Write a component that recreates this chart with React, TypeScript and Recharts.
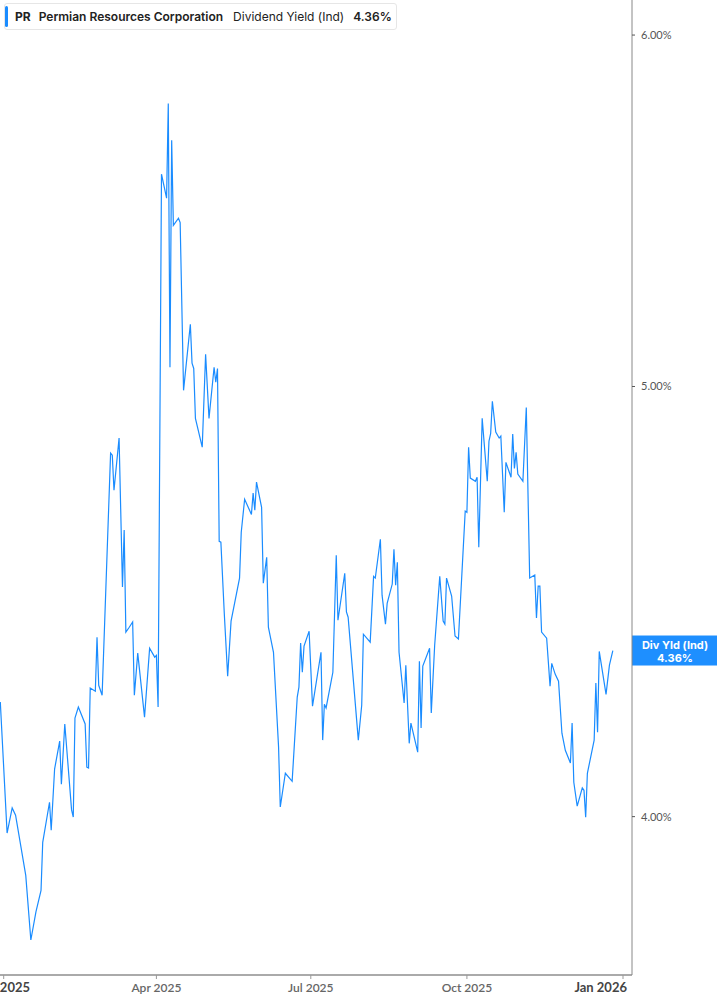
import { LineChart, Line, XAxis, YAxis, ReferenceLine } from "recharts";

const dates = [
  "2024-12-30", "2025-01-03", "2025-01-06", "2025-01-08", "2025-01-14", "2025-01-17", "2025-01-20", "2025-01-23", "2025-01-24", "2025-01-28",
  "2025-01-29", "2025-01-31", "2025-02-03", "2025-02-04", "2025-02-06", "2025-02-10", "2025-02-11", "2025-02-12", "2025-02-14", "2025-02-18",
  "2025-02-19", "2025-02-20", "2025-02-21", "2025-02-24", "2025-02-25", "2025-02-26", "2025-02-28", "2025-03-05", "2025-03-06", "2025-03-07",
  "2025-03-10", "2025-03-12", "2025-03-13", "2025-03-14", "2025-03-16", "2025-03-18", "2025-03-19", "2025-03-21", "2025-03-25", "2025-03-28",
  "2025-03-31", "2025-04-01", "2025-04-02", "2025-04-04", "2025-04-07", "2025-04-08", "2025-04-09", "2025-04-10", "2025-04-11", "2025-04-14",
  "2025-04-15", "2025-04-17", "2025-04-21", "2025-04-22", "2025-04-23", "2025-04-24", "2025-04-28", "2025-04-30", "2025-05-02", "2025-05-05",
  "2025-05-06", "2025-05-07", "2025-05-08", "2025-05-09", "2025-05-11", "2025-05-13", "2025-05-15", "2025-05-20", "2025-05-21", "2025-05-23",
  "2025-05-27", "2025-05-28", "2025-05-29", "2025-05-30", "2025-06-02", "2025-06-03", "2025-06-05", "2025-06-06", "2025-06-09", "2025-06-12",
  "2025-06-13", "2025-06-16", "2025-06-20", "2025-06-23", "2025-06-24", "2025-06-25", "2025-06-26", "2025-06-27", "2025-06-30", "2025-07-02",
  "2025-07-07", "2025-07-08", "2025-07-09", "2025-07-10", "2025-07-14", "2025-07-16", "2025-07-17", "2025-07-21", "2025-07-22", "2025-07-23",
  "2025-07-29", "2025-07-31", "2025-08-01", "2025-08-05", "2025-08-07", "2025-08-08", "2025-08-11", "2025-08-12", "2025-08-14", "2025-08-15",
  "2025-08-18", "2025-08-19", "2025-08-20", "2025-08-21", "2025-08-22", "2025-08-25", "2025-08-26", "2025-08-28", "2025-08-29", "2025-09-02",
  "2025-09-03", "2025-09-04", "2025-09-05", "2025-09-09", "2025-09-10", "2025-09-12", "2025-09-15", "2025-09-17", "2025-09-18", "2025-09-19",
  "2025-09-22", "2025-09-24", "2025-09-26", "2025-09-30", "2025-10-01", "2025-10-02", "2025-10-03", "2025-10-06", "2025-10-07", "2025-10-08",
  "2025-10-10", "2025-10-13", "2025-10-14", "2025-10-15", "2025-10-16", "2025-10-18", "2025-10-20", "2025-10-21", "2025-10-23", "2025-10-24",
  "2025-10-27", "2025-10-28", "2025-10-29", "2025-10-30", "2025-10-31", "2025-11-03", "2025-11-05", "2025-11-07", "2025-11-10", "2025-11-11",
  "2025-11-12", "2025-11-13", "2025-11-14", "2025-11-17", "2025-11-19", "2025-11-20", "2025-11-22", "2025-11-24", "2025-11-26", "2025-11-28",
  "2025-12-01", "2025-12-02", "2025-12-03", "2025-12-05", "2025-12-08", "2025-12-09", "2025-12-10", "2025-12-11", "2025-12-15", "2025-12-16",
  "2025-12-17", "2025-12-18", "2025-12-22", "2025-12-24", "2025-12-26",
];

// dividend yield (ind), %
const yields = [
  4.245, 3.966, 4.018, 4.003, 3.88, 3.752, 3.807, 3.85, 3.947, 4.03,
  3.972, 4.1, 4.16, 4.068, 4.197, 4.014, 3.999, 4.21, 4.234, 4.197,
  4.104, 4.102, 4.276, 4.269, 4.39, 4.282, 4.26, 4.83, 4.825, 4.738,
  4.868, 4.506, 4.641, 4.402, 4.413, 4.425, 4.26, 4.354, 4.212, 4.365,
  4.345, 4.349, 4.234, 5.582, 5.513, 5.791, 5.05, 5.681, 5.436, 5.456,
  5.444, 4.99, 5.164, 5.061, 5.047, 4.918, 4.845, 5.084, 4.918, 5.05,
  5.011, 5.047, 4.614, 4.612, 4.445, 4.302, 4.427, 4.527, 4.636, 4.716,
  4.679, 4.731, 4.689, 4.758, 4.696, 4.515, 4.576, 4.413, 4.356, 4.147,
  4.02, 4.091, 4.074, 4.256, 4.278, 4.377, 4.311, 4.37, 4.404, 4.236,
  4.356, 4.162, 4.24, 4.232, 4.311, 4.581, 4.429, 4.538, 4.448, 4.436,
  4.162, 4.238, 4.397, 4.379, 4.531, 4.527, 4.619, 4.487, 4.42, 4.468,
  4.513, 4.595, 4.51, 4.564, 4.356, 4.243, 4.327, 4.155, 4.199, 4.136,
  4.336, 4.188, 4.325, 4.365, 4.221, 4.372, 4.531, 4.427, 4.42, 4.527,
  4.485, 4.393, 4.386, 4.687, 4.684, 4.845, 4.768, 4.76, 4.77, 4.6,
  4.918, 4.76, 4.86, 4.88, 4.962, 4.883, 4.868, 4.873, 4.684, 4.807,
  4.77, 4.878, 4.792, 4.832, 4.778, 4.76, 4.946, 4.527, 4.534, 4.434,
  4.508, 4.508, 4.402, 4.388, 4.28, 4.331, 4.307, 4.291, 4.177, 4.14,
  4.113, 4.199, 4.072, 4.022, 4.06, 4.055, 3.999, 4.091, 4.162, 4.287,
  4.179, 4.358, 4.262, 4.327, 4.36,
];

const tickDates = ["2025-01-01", "2025-04-01", "2025-07-01", "2025-10-01", "2026-01-01"];
const tickLabels = ["Jan 2025", "Apr 2025", "Jul 2025", "Oct 2025", "Jan 2026"];
const yTicks = [4, 5, 6];

const DAY = 86400000;
const BLUE = "#1a8cff";

const data = dates.map((d, i) => ({ t: Date.parse(d), v: yields[i] }));
const tickTimes = tickDates.map((d) => Date.parse(d));
const start = Date.parse("2025-01-01");
const lastYield = yields[yields.length - 1];

function DateTick({ x, y, payload }: any) {
  const i = tickTimes.indexOf(payload.value);
  const label = tickLabels[i] ?? "";
  const isYear = label.startsWith("Jan");
  const last = i === tickLabels.length - 1;
  return (
    <text
      x={last ? x + 4 : x}
      y={y + 11}
      textAnchor={last ? "end" : "middle"}
      fill={isYear ? "#444" : "#666"}
      fontSize={isYear ? 13 : 12}
      fontWeight={isYear ? 700 : 600}
      fontFamily="Lato, sans-serif"
    >
      {label}
    </text>
  );
}

function PriceTag({ viewBox }: any) {
  if (!viewBox) return null;
  const x = viewBox.x + viewBox.width;
  const y = viewBox.y;
  return (
    <g>
      <rect x={x} y={y - 15} width={717 - x} height={30} fill="#1e8fff" />
      <text x={x + 43} y={y - 2} textAnchor="middle" fill="#fff" fontSize={11} fontWeight={700} fontFamily="Inter, sans-serif">
        Div Yld (Ind)
      </text>
      <text x={x + 43} y={y + 11} textAnchor="middle" fill="#fff" fontSize={11} fontWeight={700} fontFamily="Inter, sans-serif">
        {lastYield.toFixed(2)}%
      </text>
    </g>
  );
}

export default function App() {
  return (
    <div style={{ position: "absolute", left: 0, top: 0, width: 717, height: 1005, background: "#fff" }}>
      <LineChart width={717} height={1005} data={data} margin={{ top: 0, right: 0, bottom: 0, left: 0 }}>
        <XAxis
          dataKey="t"
          type="number"
          domain={[start - 2.18 * DAY, start + 370.3 * DAY]}
          allowDataOverflow
          ticks={tickTimes}
          interval={0}
          tick={<DateTick />}
          tickSize={4}
          height={30}
          axisLine={{ stroke: "#aaa", strokeWidth: 2 }}
          tickLine={{ stroke: "#999" }}
        />
        <YAxis
          orientation="right"
          dataKey="v"
          type="number"
          scale="log"
          domain={[3.6845, 6.1101]}
          allowDataOverflow
          ticks={yTicks}
          interval={0}
          width={85}
          tickSize={3}
          tickMargin={6}
          tickFormatter={(v: number) => `${v.toFixed(2)}%`}
          tick={{ fill: "#555", fontSize: 11, fontFamily: "Lato, sans-serif" }}
          axisLine={{ stroke: "#888" }}
          tickLine={{ stroke: "#555" }}
        />
        <Line
          type="linear"
          dataKey="v"
          stroke={BLUE}
          strokeWidth={1.2}
          dot={false}
          activeDot={false}
          isAnimationActive={false}
        />
        <ReferenceLine y={lastYield} stroke="none" ifOverflow="visible" label={<PriceTag />} />
      </LineChart>
      <div
        style={{
          position: "absolute",
          left: 4,
          top: 3,
          width: 393,
          height: 27,
          boxSizing: "border-box",
          border: "1px solid #e6e6e6",
          borderRadius: 3,
          background: "#fff",
          display: "flex",
          alignItems: "center",
          fontFamily: "Inter, sans-serif",
          fontSize: 12,
          color: "#222",
          whiteSpace: "nowrap",
        }}
      >
        <div style={{ width: 3, height: 21, background: BLUE, borderRadius: 2 }} />
        <span style={{ fontWeight: 700, marginLeft: 7 }}>PR</span>
        <span style={{ fontWeight: 600, marginLeft: 8 }}>Permian Resources Corporation</span>
        <span style={{ fontWeight: 400, marginLeft: 10 }}>Dividend Yield (Ind)</span>
        <span style={{ fontWeight: 600, marginLeft: 9 }}>4.36%</span>
      </div>
    </div>
  );
}
